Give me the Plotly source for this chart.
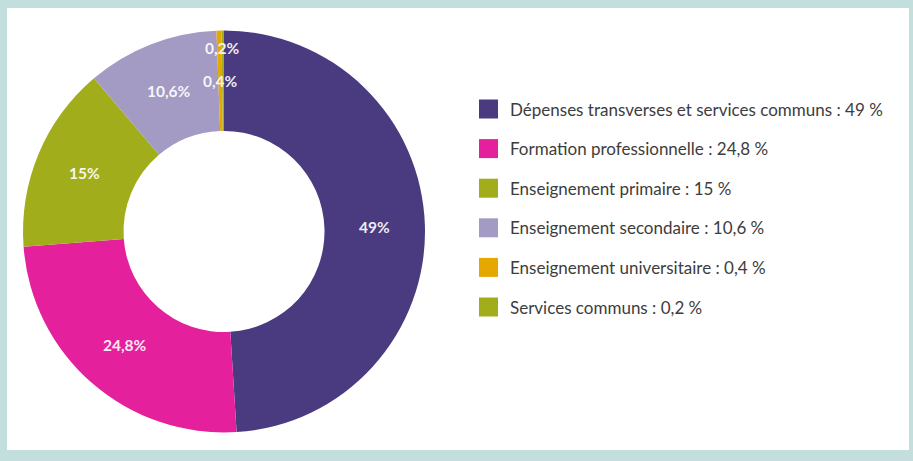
import math
import plotly.graph_objects as go

# Budget breakdown by programme (percent)
categories = [
    "Dépenses transverses et services communs",
    "Formation professionnelle",
    "Enseignement primaire",
    "Enseignement secondaire",
    "Enseignement universitaire",
    "Services communs",
]
values = [49, 24.8, 15, 10.6, 0.4, 0.2]
slice_labels = ["49%", "24,8%", "15%", "10,6%", "0,4%", "0,2%"]
legend_labels = [
    "Dépenses transverses et services communs : 49 %",
    "Formation professionnelle : 24,8 %",
    "Enseignement primaire : 15 %",
    "Enseignement secondaire : 10,6 %",
    "Enseignement universitaire : 0,4 %",
    "Services communs : 0,2 %",
]
colors = ["#4a3b80", "#e5209c", "#a2ad1c", "#a39bc3", "#e5a800", "#a2ad1c"]

W, H = 913, 461
BORDER = "#c2dedd"

# donut geometry in pixels
cx, cy, R = 224, 231.5, 201
HOLE = 0.5
# radial position of each slice label, as a fraction of the outer radius
label_radius = [0.75, 0.75, 0.75, 0.75, 0.75, 0.915]

fig = go.Figure(
    go.Pie(
        labels=categories,
        values=values,
        hole=HOLE,
        sort=False,
        direction="clockwise",
        rotation=0,
        marker=dict(colors=colors, line=dict(width=0)),
        textinfo="none",
        hoverinfo="label+percent",
        showlegend=False,
        domain=dict(
            x=[(cx - R) / W, (cx + R) / W],
            y=[(H - cy - R) / H, (H - cy + R) / H],
        ),
    )
)

# white card on the tinted frame
fig.add_shape(
    type="rect", xref="paper", yref="paper",
    x0=7 / W, x1=(W - 4) / W, y0=11 / H, y1=(H - 8) / H,
    fillcolor="white", line=dict(width=0), layer="below",
)

# slice labels placed at each slice's mid-angle
total = sum(values)
cum = 0.0
for v, txt, rf in zip(values, slice_labels, label_radius):
    mid = (cum + v / 2) / total * 2 * math.pi
    cum += v
    px = cx + rf * R * math.sin(mid)
    py = cy - rf * R * math.cos(mid)
    fig.add_annotation(
        x=px / W, y=1 - py / H, xref="paper", yref="paper",
        text=f"<b>{txt}</b>", showarrow=False,
        font=dict(family="Lato", size=15.5, color="rgba(255,255,255,0.92)"),
        xanchor="center", yanchor="middle",
    )

# legend: colour swatch + text per category
lx, ly0, step, sw = 479, 109, 39.6, 19
for i, (txt, col) in enumerate(zip(legend_labels, colors)):
    yc = ly0 + i * step
    fig.add_shape(
        type="rect", xref="paper", yref="paper",
        x0=lx / W, x1=(lx + sw) / W,
        y0=1 - (yc + sw / 2) / H, y1=1 - (yc - sw / 2) / H,
        fillcolor=col, line=dict(width=0),
    )
    fig.add_annotation(
        x=(lx + 29) / W, y=1 - yc / H, xref="paper", yref="paper",
        text=txt, showarrow=False,
        font=dict(family="Lato", size=17, color="#3d3d3d"),
        xanchor="left", yanchor="middle",
    )

fig.update_layout(
    width=W, height=H,
    margin=dict(l=0, r=0, t=0, b=0),
    paper_bgcolor=BORDER,
    plot_bgcolor=BORDER,
)

fig.write_html("out.html")
